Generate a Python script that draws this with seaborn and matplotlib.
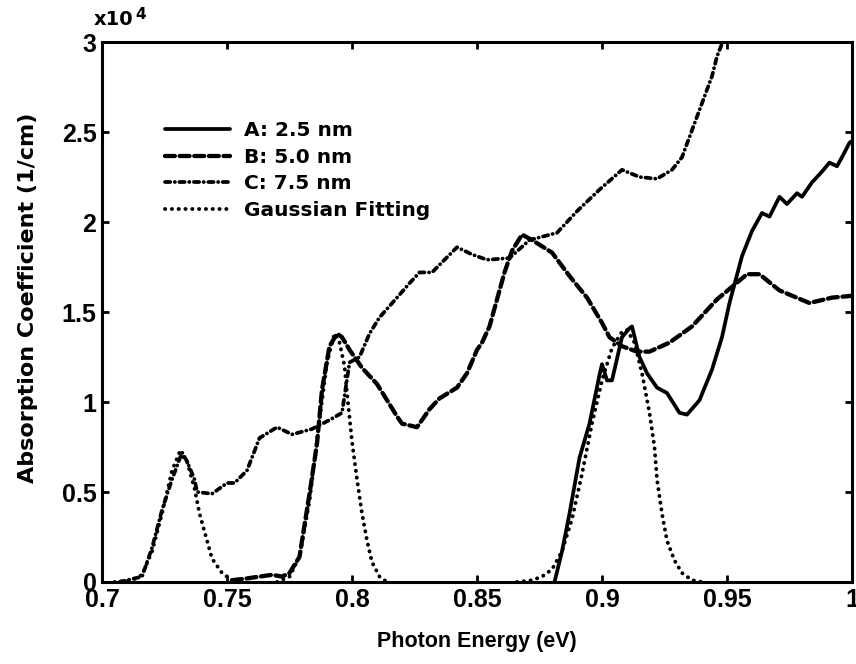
import matplotlib
matplotlib.use("Agg")
import matplotlib.pyplot as plt
import seaborn as sns
import pandas as pd

# Photon energy (eV) and absorption coefficient (x10^4 1/cm) for each sample
energy_a = [0.881, 0.884, 0.887, 0.891, 0.895, 0.899, 0.900, 0.902, 0.904, 0.908,
            0.911, 0.912, 0.915, 0.918, 0.922, 0.926, 0.931, 0.934, 0.939, 0.944,
            0.948, 0.951, 0.956, 0.960, 0.964, 0.967, 0.971, 0.974, 0.978, 0.980,
            0.984, 0.988, 0.991, 0.994, 0.996, 0.999, 1.000]
alpha_a = [0.00, 0.17, 0.38, 0.69, 0.88, 1.15, 1.21, 1.12, 1.12, 1.36,
           1.41, 1.42, 1.25, 1.16, 1.08, 1.05, 0.94, 0.93, 1.01, 1.18,
           1.36, 1.55, 1.81, 1.95, 2.05, 2.03, 2.14, 2.10, 2.16, 2.14,
           2.22, 2.28, 2.33, 2.31, 2.36, 2.44, 2.45]

energy_b = [0.752, 0.758, 0.763, 0.768, 0.772, 0.775, 0.779, 0.780, 0.783, 0.786,
            0.788, 0.791, 0.794, 0.796, 0.799, 0.804, 0.810, 0.814, 0.818, 0.820,
            0.826, 0.831, 0.835, 0.842, 0.846, 0.850, 0.852, 0.855, 0.858, 0.861,
            0.864, 0.868, 0.872, 0.880, 0.887, 0.894, 0.900, 0.903, 0.908, 0.914,
            0.919, 0.927, 0.936, 0.946, 0.952, 0.958, 0.963, 0.971, 0.983, 0.992,
            1.000]
alpha_b = [0.01, 0.02, 0.03, 0.04, 0.03, 0.05, 0.14, 0.23, 0.49, 0.77,
           1.07, 1.31, 1.38, 1.36, 1.29, 1.19, 1.10, 1.01, 0.92, 0.88,
           0.86, 0.96, 1.02, 1.08, 1.16, 1.29, 1.33, 1.42, 1.57, 1.72,
           1.84, 1.93, 1.90, 1.83, 1.70, 1.58, 1.44, 1.36, 1.31, 1.28,
           1.28, 1.33, 1.42, 1.57, 1.64, 1.71, 1.71, 1.62, 1.55, 1.58,
           1.59]

energy_c = [0.707, 0.716, 0.720, 0.724, 0.728, 0.732, 0.734, 0.737, 0.738, 0.744,
            0.750, 0.753, 0.758, 0.763, 0.770, 0.776, 0.784, 0.791, 0.796, 0.799,
            0.803, 0.807, 0.811, 0.818, 0.823, 0.827, 0.832, 0.842, 0.848, 0.854,
            0.863, 0.871, 0.882, 0.890, 0.899, 0.908, 0.915, 0.922, 0.928, 0.932,
            0.936, 0.940, 0.944, 0.946, 0.948, 0.951]
alpha_c = [0.00, 0.03, 0.19, 0.40, 0.57, 0.72, 0.67, 0.57, 0.50, 0.49,
           0.55, 0.55, 0.62, 0.80, 0.86, 0.82, 0.85, 0.90, 0.94, 1.22,
           1.25, 1.38, 1.47, 1.58, 1.66, 1.72, 1.72, 1.86, 1.82, 1.79,
           1.80, 1.90, 1.94, 2.06, 2.18, 2.29, 2.25, 2.24, 2.29, 2.36,
           2.51, 2.66, 2.81, 2.92, 2.99, 3.10]

# Gaussian fits of the three absorption edges
energy_g1 = [0.705, 0.712, 0.716, 0.720, 0.724, 0.728, 0.731, 0.734, 0.737, 0.739,
             0.742, 0.744, 0.748, 0.752, 0.756]
alpha_g1 = [0.00, 0.01, 0.04, 0.17, 0.38, 0.62, 0.72, 0.67, 0.52, 0.38,
            0.23, 0.13, 0.05, 0.01, 0.00]
energy_g2 = [0.770, 0.775, 0.779, 0.783, 0.787, 0.790, 0.793, 0.795, 0.797, 0.798,
             0.800, 0.802, 0.804, 0.806, 0.808, 0.811, 0.814]
alpha_g2 = [0.00, 0.03, 0.14, 0.45, 0.90, 1.22, 1.38, 1.33, 1.20, 1.05,
            0.78, 0.57, 0.38, 0.23, 0.11, 0.03, 0.00]
energy_g3 = [0.866, 0.872, 0.876, 0.880, 0.884, 0.888, 0.892, 0.896, 0.900, 0.904,
             0.908, 0.910, 0.913, 0.916, 0.919, 0.921, 0.922, 0.924, 0.926, 0.929,
             0.932, 0.936, 0.940]
alpha_g3 = [0.00, 0.01, 0.03, 0.07, 0.17, 0.35, 0.60, 0.88, 1.12, 1.30,
            1.39, 1.40, 1.33, 1.16, 0.94, 0.75, 0.57, 0.38, 0.23, 0.12,
            0.05, 0.01, 0.00]

series_labels = ["A: 2.5 nm", "B: 5.0 nm", "C: 7.5 nm", "Gaussian Fitting"]
x_ticks = [0.7, 0.75, 0.8, 0.85, 0.9, 0.95, 1.0]
x_tick_labels = ["0.7", "0.75", "0.8", "0.85", "0.9", "0.95", "1"]
y_ticks = [0, 0.5, 1, 1.5, 2, 2.5, 3]
y_tick_labels = ["0", "0.5", "1", "1.5", "2", "2.5", "3"]

sns.set_theme(style="ticks")
plt.rcParams["font.family"] = ["Liberation Sans", "DejaVu Sans"]
plt.rcParams["font.weight"] = "bold"
for key in ("text.color", "axes.labelcolor", "xtick.color", "ytick.color",
            "axes.edgecolor"):
    plt.rcParams[key] = "black"

fig = plt.figure(figsize=(8.56, 6.64), dpi=100)
ax = fig.add_axes([0.1192, 0.1235, 0.8761, 0.8132])

styles = {
    "solid": dict(linestyle="-", lw=2.7),
    "dash": dict(linestyle=(0, (2.3, 1.1)), lw=3.1),
    "dashdot": dict(linestyle=(0, (1.4, 1.2, 0.05, 1.2)), lw=2.7),
    "dot": dict(linestyle=(0, (0.05, 1.7)), lw=2.8),
}

def draw(x, y, style, label=None):
    df = pd.DataFrame({"E": x, "alpha": y})
    n_before = len(ax.lines)
    sns.lineplot(data=df, x="E", y="alpha", ax=ax, color="black",
                 estimator=None, sort=False, label=label, legend=False,
                 **styles[style])
    line = ax.lines[n_before]
    line.set_dash_capstyle("round")
    line.set_solid_capstyle("round")
    return line

h_a = draw(energy_a, alpha_a, "solid")
h_b = draw(energy_b, alpha_b, "dash")
h_c = draw(energy_c, alpha_c, "dashdot")
h_g = draw(energy_g1, alpha_g1, "dot")
draw(energy_g2, alpha_g2, "dot")
draw(energy_g3, alpha_g3, "dot")

ax.set_xlim(0.7, 1.0)
ax.set_ylim(0, 3)
ax.set_xticks(x_ticks)
ax.set_xticklabels(x_tick_labels)
ax.set_yticks(y_ticks)
ax.set_yticklabels(y_tick_labels)
ax.tick_params(axis="both", which="major", direction="in", length=5, width=2,
               top=True, right=True, labelsize=18, pad=4, colors="black")
for lab in ax.get_xticklabels() + ax.get_yticklabels():
    lab.set_fontweight("bold")
    lab.set_color("black")
for sp in ax.spines.values():
    sp.set_visible(True)
    sp.set_linewidth(2.2)
    sp.set_color("black")

ax.set_xlabel("Photon Energy (eV)", fontsize=15.5, fontweight="bold",
              color="black")
ax.xaxis.set_label_coords(0.5, -0.09)
ax.set_ylabel("Absorption Coefficient (1/cm)", fontsize=16, fontweight="bold",
              family=["DejaVu Sans"], color="black")
ax.yaxis.set_label_coords(-0.085, 0.526)

fig.text(0.109, 0.963, "x10", fontsize=14, fontweight="bold",
         family=["DejaVu Sans"], ha="left", va="baseline", color="black")
fig.text(0.158, 0.972, "4", fontsize=11, fontweight="bold",
         family=["DejaVu Sans"], ha="left", va="baseline", color="black")

leg = ax.legend([h_a, h_b, h_c, h_g], series_labels, loc="upper left",
                bbox_to_anchor=(0.071, 0.872), frameon=False, borderpad=0,
                handlelength=3.2, handletextpad=0.72, labelspacing=0.37,
                prop=dict(family="DejaVu Sans", weight="bold", size=14.5))
for t in leg.get_texts():
    t.set_color("black")

fig.savefig("out.png", dpi=100, facecolor="white")
